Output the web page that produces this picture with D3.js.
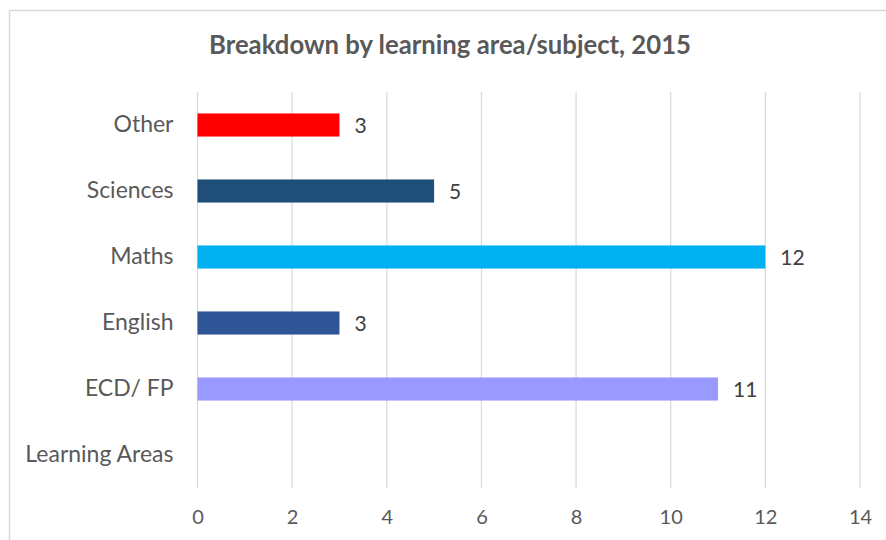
<!DOCTYPE html>
<html><head><meta charset="utf-8">
<script src="https://cdn.jsdelivr.net/npm/d3@7/dist/d3.min.js"></script>
<style>body{margin:0;background:#fff}svg{display:block}</style>
</head><body><svg id="c" width="886" height="540"></svg>
<script>
const categories = ["Other", "Sciences", "Maths", "English", "ECD/ FP", "Learning Areas"];
const values = [3, 5, 12, 3, 11, null];
const colors = ["#FF0000", "#1F4E79", "#00B0F0", "#2F5597", "#9999FF", "#FFFFFF"];
const xTicks = [0, 2, 4, 6, 8, 10, 12, 14];
const title = "Breakdown by learning area/subject, 2015";

const svg = d3.select("#c");
const font = "Lato, 'Open Sans', sans-serif";
const W = 886, H = 540;
const L = 197.5, R = 860, T = 92, B = 488;

svg.append("rect").attr("x", 0).attr("y", 0).attr("width", W).attr("height", H).attr("fill", "#fff");
svg.append("rect").attr("x", 9.5).attr("y", 10.5).attr("width", 900).attr("height", 560)
  .attr("fill", "#fff").attr("stroke", "#d9d9d9").attr("stroke-width", 1.5);

const x = d3.scaleLinear().domain([0, 14]).range([L, R]);
const y = d3.scaleBand().domain(categories).range([T, B]).paddingInner(0.65).paddingOuter(0.325);

svg.append("text").attr("x", 450).attr("y", 54).attr("text-anchor", "middle")
  .attr("font-family", font).attr("font-weight", "bold").attr("font-size", 25.7)
  .attr("fill", "#595959").text(title);

// gridlines
const grid = svg.append("g");
grid.selectAll("line").data(xTicks).join("line")
  .attr("x1", d => x(d)).attr("x2", d => x(d)).attr("y1", T).attr("y2", B)
  .attr("stroke", "#d9d9d9").attr("stroke-width", 1.2);

// x axis
const xAxis = svg.append("g").attr("transform", `translate(0,${B})`)
  .call(d3.axisBottom(x).tickValues(xTicks).tickSize(0).tickPadding(22));
xAxis.select(".domain").remove();
xAxis.selectAll("text").attr("font-family", font).attr("font-size", 20).attr("fill", "#595959");

// y axis
const yAxis = svg.append("g").attr("transform", `translate(${L},0)`)
  .call(d3.axisLeft(y).tickSize(0).tickPadding(24));
yAxis.select(".domain").remove();
yAxis.selectAll("text").attr("font-family", font).attr("font-size", 23).attr("fill", "#595959");

const data = categories.map((c, i) => ({c, v: values[i], col: colors[i]})).filter(d => d.v != null);

svg.append("g").selectAll("rect").data(data).join("rect")
  .attr("x", x(0)).attr("y", d => y(d.c)).attr("width", d => x(d.v) - x(0))
  .attr("height", y.bandwidth()).attr("fill", d => d.col);

svg.append("g").selectAll("text").data(data).join("text")
  .attr("x", d => x(d.v) + 15).attr("y", d => y(d.c) + y.bandwidth() / 2)
  .attr("dy", "0.36em").attr("font-family", font).attr("font-size", 21)
  .attr("fill", "#404040").text(d => d.v);
</script></body></html>
